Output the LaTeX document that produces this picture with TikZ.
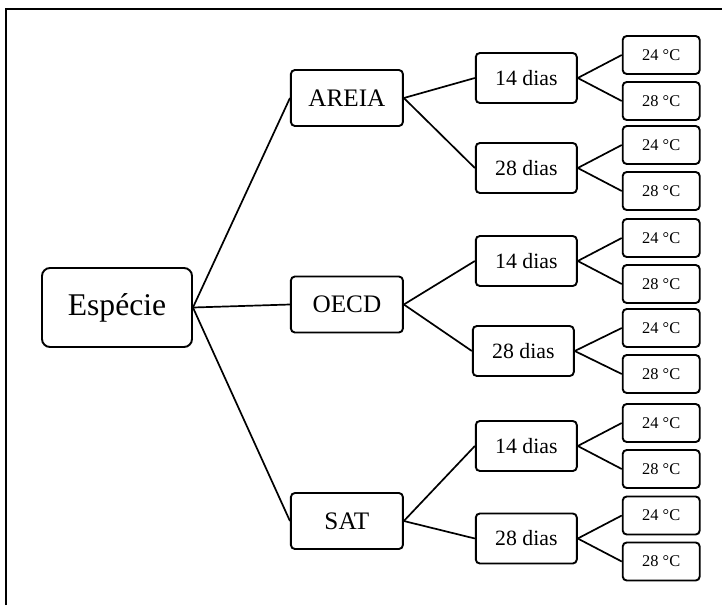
\documentclass[tikz,border=0pt]{standalone}
\usepackage{fontspec}
\setmainfont{Liberation Serif}
\usepackage{tikz}
\usetikzlibrary{positioning}

\begin{document}
\begin{tikzpicture}[
  x=0.5pt,y=-0.5pt,
  box/.style={rectangle,draw,line width=0.95pt,rounded corners=2pt,
              inner sep=0pt,align=center},
  espbox/.style={box,rounded corners=4pt,minimum width=75pt,minimum height=39.5pt,
                 font=\fontsize{15.8}{18}\selectfont},
  grpbox/.style={box,minimum width=56pt,minimum height=28pt,
                 font=\fontsize{12.6}{15}\selectfont},
  diabox/.style={box,minimum width=50.5pt,minimum height=25pt,
                 font=\fontsize{10.9}{13}\selectfont},
  tempbox/.style={box,minimum width=38.5pt,minimum height=19pt,
                  font=\fontsize{8.2}{10}\selectfont},
  link/.style={line width=0.85pt}
]
\useasboundingbox (0,0) rectangle (722,605);
\draw[line width=1.3pt] (6,605) -- (6,9) -- (722,9);

\node[espbox] (esp) at (117,307.5) {Espécie};
\node[grpbox] (areia) [right=48.5pt of esp,yshift=104.75pt]  {AREIA};
\node[grpbox] (oecd)  [right=48.5pt of esp,yshift=1.5pt]     {OECD};
\node[grpbox] (sat)   [right=48.5pt of esp,yshift=-106.75pt] {SAT};

\node[diabox] (a14) [right=35.5pt of areia,yshift=10pt]    {14 dias};
\node[diabox] (a28) [right=35.5pt of areia,yshift=-35pt]   {28 dias};
\node[diabox] (o14) [right=35.5pt of oecd,yshift=21.75pt]  {14 dias};
\node[diabox] (o28) [right=34pt of oecd,yshift=-23.25pt]   {28 dias};
\node[diabox] (s14) [right=35.5pt of sat,yshift=37.5pt]    {14 dias};
\node[diabox] (s28) [right=35.5pt of sat,yshift=-8.75pt]   {28 dias};

\node[tempbox] (a14t24) [right=22pt of a14,yshift=11.5pt]  {24 °C};
\node[tempbox] (a14t28) [right=22pt of a14,yshift=-11.5pt] {28 °C};
\node[tempbox] (a28t24) [right=22pt of a28,yshift=11.5pt]  {24 °C};
\node[tempbox] (a28t28) [right=22pt of a28,yshift=-11.5pt] {28 °C};
\node[tempbox] (o14t24) [right=22pt of o14,yshift=11.5pt]  {24 °C};
\node[tempbox] (o14t28) [right=22pt of o14,yshift=-11.5pt] {28 °C};
\node[tempbox] (o28t24) [right=23.5pt of o28,yshift=11.5pt]  {24 °C};
\node[tempbox] (o28t28) [right=23.5pt of o28,yshift=-11.5pt] {28 °C};
\node[tempbox] (s14t24) [right=22pt of s14,yshift=11.5pt]  {24 °C};
\node[tempbox] (s14t28) [right=22pt of s14,yshift=-11.5pt] {28 °C};
\node[tempbox] (s28t24) [right=22pt of s28,yshift=11.5pt]  {24 °C};
\node[tempbox] (s28t28) [right=22pt of s28,yshift=-11.5pt] {28 °C};

\draw[link] (esp.east) -- (areia.west);
\draw[link] (esp.east) -- (oecd.west);
\draw[link] (esp.east) -- (sat.west);
\draw[link] (areia.east) -- (a14.west);
\draw[link] (areia.east) -- (a28.west);
\draw[link] (oecd.east) -- (o14.west);
\draw[link] (oecd.east) -- (o28.west);
\draw[link] (sat.east) -- (s14.west);
\draw[link] (sat.east) -- (s28.west);
\draw[link] (a14.east) -- (a14t24.west);
\draw[link] (a14.east) -- (a14t28.west);
\draw[link] (a28.east) -- (a28t24.west);
\draw[link] (a28.east) -- (a28t28.west);
\draw[link] (o14.east) -- (o14t24.west);
\draw[link] (o14.east) -- (o14t28.west);
\draw[link] (o28.east) -- (o28t24.west);
\draw[link] (o28.east) -- (o28t28.west);
\draw[link] (s14.east) -- (s14t24.west);
\draw[link] (s14.east) -- (s14t28.west);
\draw[link] (s28.east) -- (s28t24.west);
\draw[link] (s28.east) -- (s28t28.west);
\end{tikzpicture}
\end{document}
